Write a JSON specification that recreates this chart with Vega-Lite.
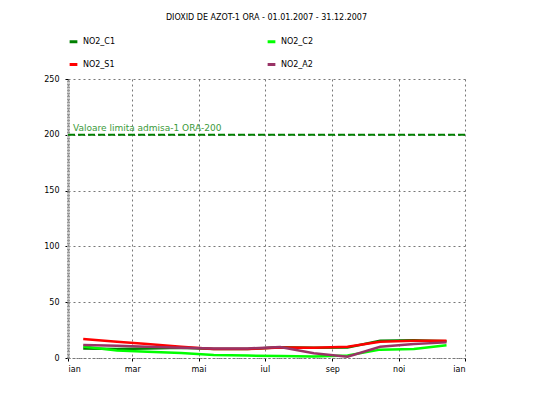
{
  "$schema": "https://vega.github.io/schema/vega-lite/v6.json",
  "autosize": "none",
  "width": 397,
  "height": 279,
  "padding": {"left": 68, "top": 79, "right": 70, "bottom": 41},
  "background": "white",
  "config": {
    "font": "DejaVu Sans",
    "view": {"stroke": null},
    "axis": {"labelFontSize": 8, "labelColor": "#000", "titleFontSize": 8}
  },
  "title": {"text": "DIOXID DE AZOT-1 ORA - 01.01.2007 - 31.12.2007", "anchor": "middle", "fontSize": 8, "fontWeight": "normal", "offset": 14, "color": "#000"},
  "layer": [
    {
      "data": {"values": [
        {"month": "2007-01-15", "series": "NO2_C1", "value": 8.6},
        {"month": "2007-02-15", "series": "NO2_C1", "value": 8.0},
        {"month": "2007-03-15", "series": "NO2_C1", "value": 8.6},
        {"month": "2007-04-15", "series": "NO2_C1", "value": 9.2},
        {"month": "2007-05-15", "series": "NO2_C1", "value": 8.0},
        {"month": "2007-06-15", "series": "NO2_C1", "value": 8.0},
        {"month": "2007-07-15", "series": "NO2_C1", "value": 9.6},
        {"month": "2007-08-15", "series": "NO2_C1", "value": 9.2},
        {"month": "2007-09-15", "series": "NO2_C1", "value": 9.5},
        {"month": "2007-10-15", "series": "NO2_C1", "value": 15.5},
        {"month": "2007-11-15", "series": "NO2_C1", "value": 15.8},
        {"month": "2007-12-15", "series": "NO2_C1", "value": 15.0},
        {"month": "2007-01-15", "series": "NO2_C2", "value": 10.4},
        {"month": "2007-02-15", "series": "NO2_C2", "value": 6.8},
        {"month": "2007-03-15", "series": "NO2_C2", "value": 5.7},
        {"month": "2007-04-15", "series": "NO2_C2", "value": 4.5},
        {"month": "2007-05-15", "series": "NO2_C2", "value": 2.7},
        {"month": "2007-06-15", "series": "NO2_C2", "value": 2.2},
        {"month": "2007-07-15", "series": "NO2_C2", "value": 1.8},
        {"month": "2007-08-15", "series": "NO2_C2", "value": 1.4},
        {"month": "2007-09-15", "series": "NO2_C2", "value": 2.2},
        {"month": "2007-10-15", "series": "NO2_C2", "value": 7.5},
        {"month": "2007-11-15", "series": "NO2_C2", "value": 8.0},
        {"month": "2007-12-15", "series": "NO2_C2", "value": 11.5},
        {"month": "2007-01-15", "series": "NO2_S1", "value": 17.0},
        {"month": "2007-02-15", "series": "NO2_S1", "value": 14.6},
        {"month": "2007-03-15", "series": "NO2_S1", "value": 12.5},
        {"month": "2007-04-15", "series": "NO2_S1", "value": 10.1},
        {"month": "2007-05-15", "series": "NO2_S1", "value": 8.0},
        {"month": "2007-06-15", "series": "NO2_S1", "value": 8.0},
        {"month": "2007-07-15", "series": "NO2_S1", "value": 9.5},
        {"month": "2007-08-15", "series": "NO2_S1", "value": 9.2},
        {"month": "2007-09-15", "series": "NO2_S1", "value": 10.0},
        {"month": "2007-10-15", "series": "NO2_S1", "value": 14.6},
        {"month": "2007-11-15", "series": "NO2_S1", "value": 15.5},
        {"month": "2007-12-15", "series": "NO2_S1", "value": 15.5},
        {"month": "2007-01-15", "series": "NO2_A2", "value": 11.6},
        {"month": "2007-02-15", "series": "NO2_A2", "value": 11.0},
        {"month": "2007-03-15", "series": "NO2_A2", "value": 10.1},
        {"month": "2007-04-15", "series": "NO2_A2", "value": 9.2},
        {"month": "2007-05-15", "series": "NO2_A2", "value": 8.6},
        {"month": "2007-06-15", "series": "NO2_A2", "value": 8.6},
        {"month": "2007-07-15", "series": "NO2_A2", "value": 9.8},
        {"month": "2007-08-15", "series": "NO2_A2", "value": 4.2},
        {"month": "2007-09-15", "series": "NO2_A2", "value": 1.2},
        {"month": "2007-10-15", "series": "NO2_A2", "value": 10.0},
        {"month": "2007-11-15", "series": "NO2_A2", "value": 12.5},
        {"month": "2007-12-15", "series": "NO2_A2", "value": 14.0}
      ]},
      "mark": {"type": "line", "strokeWidth": 2.5},
      "encoding": {
        "x": {
          "field": "month", "type": "temporal",
          "scale": {"type": "utc", "domain": [{"year": 2007, "month": 1, "date": 1, "utc": true}, {"year": 2008, "month": 1, "date": 1, "utc": true}], "nice": false},
          "axis": {
            "title": null,
            "tickCount": {"interval": "month", "step": 2},
            "labelExpr": "['ian','feb','mar','apr','mai','iun','iul','aug','sep','oct','noi','dec'][utcmonth(datum.value)]",
            "grid": true, "gridColor": "#777", "gridDash": [2, 3], "gridWidth": 1,
            "domainColor": "#777", "domainDash": [2, 2], "domainWidth": 1,
            "tickColor": "#000", "tickSize": 3, "labelPadding": 4
          }
        },
        "y": {
          "field": "value", "type": "quantitative",
          "scale": {"domain": [0, 250], "nice": false},
          "axis": {
            "title": null,
            "values": [0, 50, 100, 150, 200, 250],
            "grid": true, "gridColor": "#777", "gridDash": [2, 3], "gridWidth": 1,
            "domainColor": "#999", "domainDash": [2, 1], "domainWidth": 3,
            "tickColor": "#000", "tickSize": 3, "labelPadding": 6
          }
        },
        "color": {
          "field": "series", "type": "nominal",
          "scale": {"domain": ["NO2_C1", "NO2_S1", "NO2_C2", "NO2_A2"], "range": ["#008000", "#ff0000", "#00ff00", "#993366"]},
          "legend": {
            "title": null,
            "orient": "none", "legendX": 0, "legendY": -43,
            "columns": 2, "columnPadding": 145, "rowPadding": 10,
            "symbolType": "stroke", "symbolStrokeWidth": 3, "symbolSize": 60,
            "labelFontSize": 8, "labelColor": "#000"
          }
        }
      }
    },
    {
      "data": {"values": [{"limit": 200, "label": "Valoare limita admisa-1 ORA-200"}]},
      "mark": {"type": "rule", "color": "#008000", "strokeWidth": 2, "strokeDash": [7, 3]},
      "encoding": {"y": {"field": "limit", "type": "quantitative"}}
    },
    {
      "data": {"values": [{"limit": 200, "label": "Valoare limita admisa-1 ORA-200"}]},
      "mark": {"type": "text", "align": "left", "baseline": "bottom", "dx": 5, "dy": -2, "color": "#3a9a3a", "fontSize": 9},
      "encoding": {
        "x": {"datum": {"year": 2007, "month": 1, "date": 1, "utc": true}, "type": "temporal"},
        "y": {"field": "limit", "type": "quantitative"},
        "text": {"field": "label"}
      }
    }
  ]
}
